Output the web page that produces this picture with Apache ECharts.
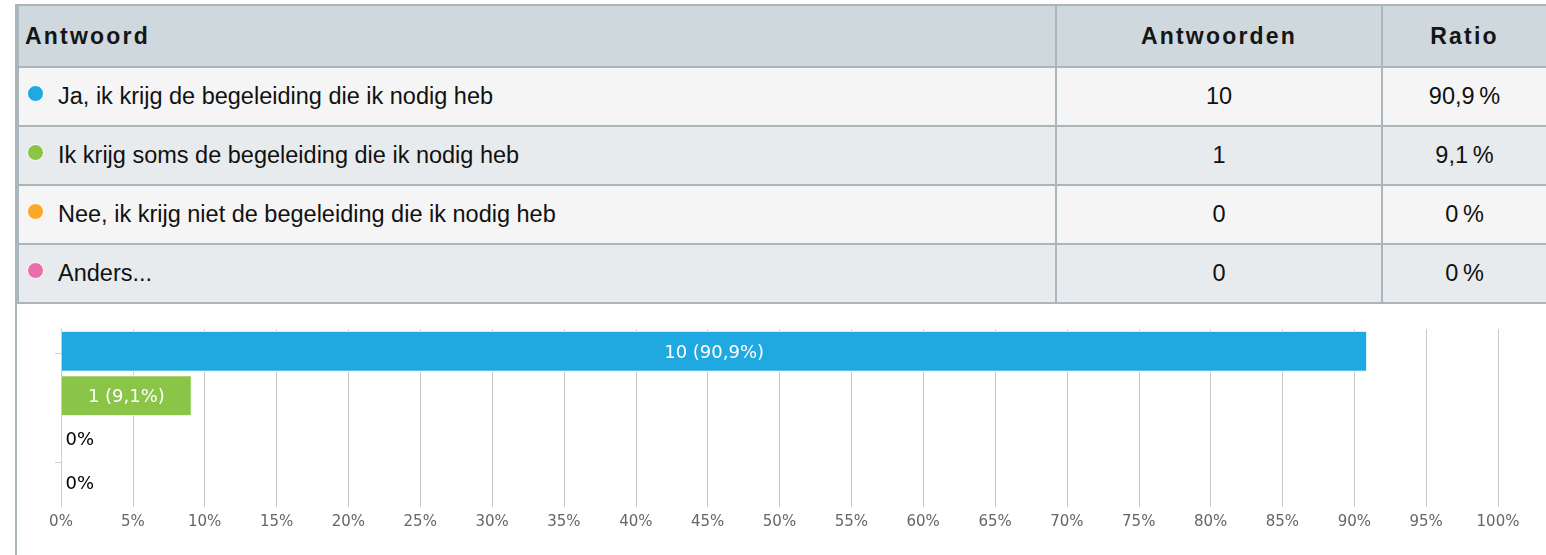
<!DOCTYPE html>
<html>
<head>
<meta charset="utf-8">
<script src="https://cdn.jsdelivr.net/npm/echarts@6/dist/echarts.min.js"></script>
<style>
    html, body { margin: 0; padding: 0; background: #fff; }
    body { width: 1546px; height: 555px; position: relative; overflow: hidden; }
    #frame { position: absolute; left: 15px; top: 4px; width: 1531px; height: 551px; border-left: 2px solid #aab6bc; box-sizing: border-box; }
    table { position: absolute; left: 17px; top: 4px; width: 1529px; border-collapse: collapse; font-family: 'Liberation Sans', sans-serif; font-size: 23.5px; color: #111; }
    td, th { border: 2px solid #aab6bc; padding: 0; height: 57px; }
    tr td:last-child, tr th:last-child { border-right: none; }
    th { background: #cfd8dc; font-weight: bold; font-size: 23px; letter-spacing: 2.2px; text-align: left; padding-left: 6px; height: 60px; color: #151515; }
    th.c { text-align: center; padding-left: 0; }
    td.c { text-align: center; }
    tr.odd td { background: #f5f5f5; }
    tr.even td { background: #e8ebed; }
    .dot { display: inline-block; width: 15px; height: 15px; border-radius: 50%; border: 1px solid #fff; margin: 0 14px 0 8px; vertical-align: 2px; }
    #chart { position: absolute; left: 17px; top: 303px; width: 1529px; height: 252px; }
</style>
</head>
<body>
<div id="frame"></div>
<table id="tbl"></table>
<div id="chart"></div>
<script>
const answers = [
    'Ja, ik krijg de begeleiding die ik nodig heb',
    'Ik krijg soms de begeleiding die ik nodig heb',
    'Nee, ik krijg niet de begeleiding die ik nodig heb',
    'Anders...',
];
const counts = [10, 1, 0, 0];
const ratios = [90.9, 9.1, 0, 0];
const colors = ['#1fa9e0', '#8bc548', '#fba92a', '#e96fab'];
const xTicks = [0, 100, 5];
// losse streepjes links van de as (zoals in het origineel)
const yTickMarks = [0.55, 3];

// tabel
let html = '<tr><th>Antwoord</th><th class="c" style="width:324px">Antwoorden</th><th class="c" style="width:163px">Ratio</th></tr>';
answers.forEach(function(a, i) {
    const cls = i % 2 === 0 ? 'odd' : 'even';
    const ratio = String(ratios[i]).replace('.', ',') + '\u202f%';
    html += '<tr class="' + cls + '"><td><span class="dot" style="background:' + colors[i] + '"></span>' + a + '</td>' +
        '<td class="c">' + counts[i] + '</td><td class="c">' + ratio + '</td></tr>';
});
document.getElementById('tbl').innerHTML = html;

// grafiek
const myChart = echarts.init(document.getElementById('chart'));
const option = {
    animation: false,
    grid: { left: 44, right: 48, top: 26, bottom: 48 },
    xAxis: {
        type: 'value',
        min: xTicks[0],
        max: xTicks[1],
        interval: xTicks[2],
        axisLine: { show: false },
        axisTick: { show: false },
        splitLine: { lineStyle: { color: '#c8c8c8', width: 1 } },
        axisLabel: {
            color: '#666',
            fontFamily: 'DejaVu Sans',
            fontSize: 15,
            margin: 8,
            formatter: '{value}%',
        },
    },
    yAxis: [
        {
            type: 'category',
            inverse: true,
            data: answers,
            z: 5,
            axisLine: { lineStyle: { color: '#c0d0e0' } },
            axisTick: { show: false },
            axisLabel: { show: false },
        },
        {
            type: 'value',
            position: 'left',
            inverse: true,
            min: 0,
            max: answers.length,
            axisLine: { show: false },
            axisLabel: { show: false },
            splitLine: { show: false },
            axisTick: {
                show: true,
                length: 6,
                customValues: yTickMarks,
                lineStyle: { color: '#c0d0e0' },
            },
        },
    ],
    series: [
        {
            type: 'bar',
            barCategoryGap: '8%',
            data: ratios.map(function(r, i) {
                return {
                    value: r,
                    itemStyle: { color: colors[i], borderColor: '#fff', borderWidth: 1 },
                    label: r > 0 ? {
                        position: 'inside',
                        color: '#fff',
                        offset: [0, 2],
                    } : {
                        position: 'right',
                        distance: 4,
                        color: '#000',
                    },
                };
            }),
            label: {
                show: true,
                fontFamily: 'DejaVu Sans',
                fontSize: 18,
                formatter: function(p) {
                    const i = p.dataIndex;
                    if (counts[i] === 0) return '0%';
                    return counts[i] + ' (' + String(ratios[i]).replace('.', ',') + '%)';
                },
            },
        },
    ],
};
myChart.setOption(option);
</script>
</body>
</html>
